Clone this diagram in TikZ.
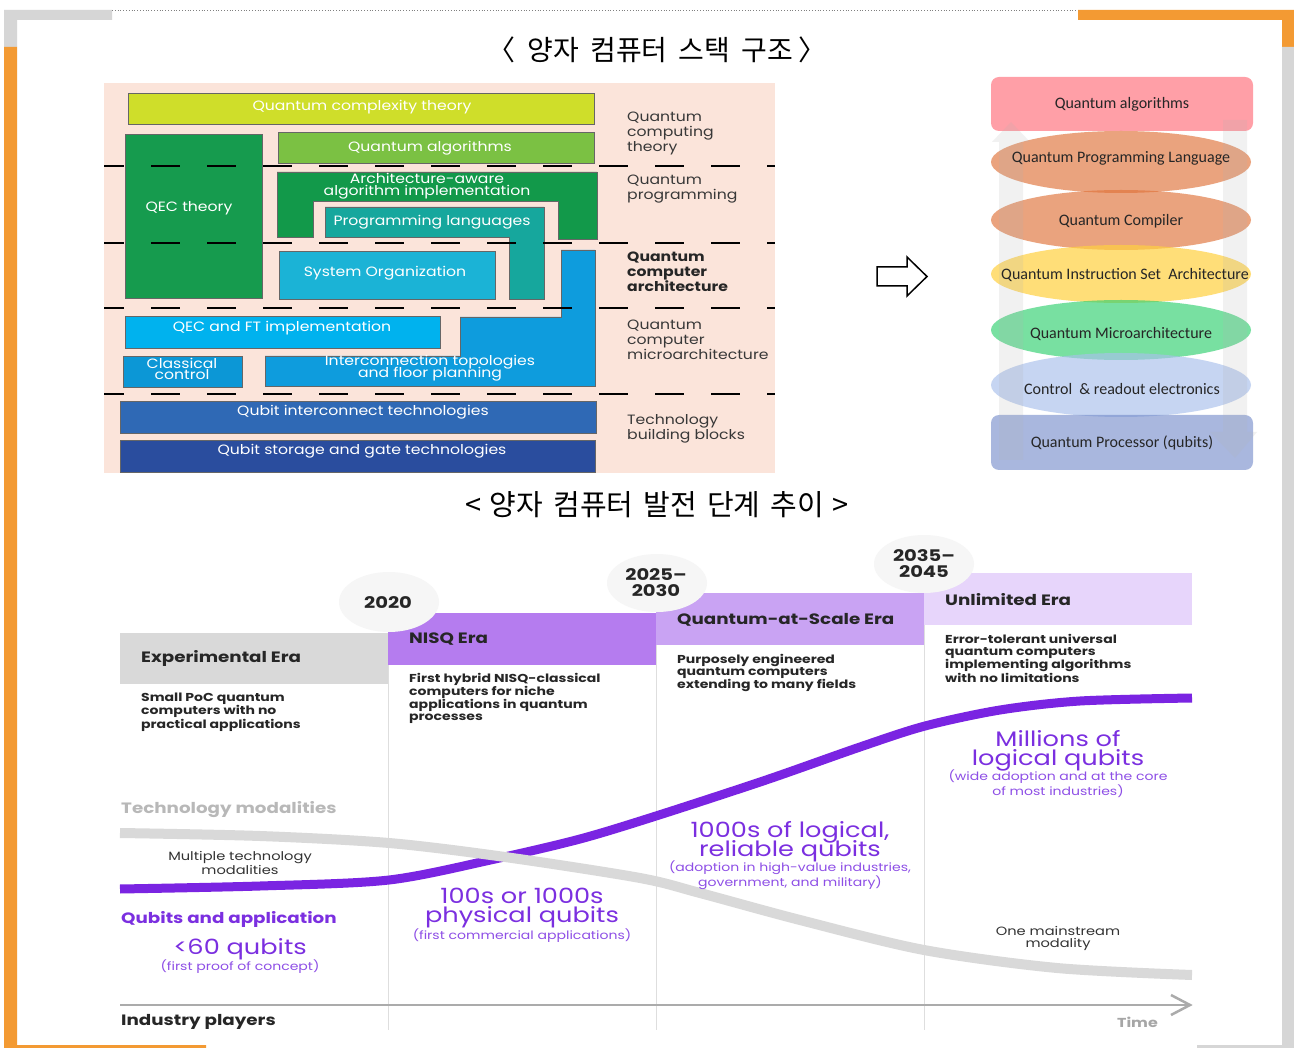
\documentclass[tikz,border=0pt]{standalone}
\usepackage{fontspec}
\setmainfont{Poppins}
\newfontfamily\gotham[FakeStretch=1.16]{Poppins}
\newfontfamily\gothw[FakeStretch=1.22]{Poppins}
\newfontfamily\cjk{Noto Sans CJK KR}
\newfontfamily\stk{Carlito}
\newcommand\tightl{\lineskiplimit=-20pt\relax}
\usetikzlibrary{shapes.geometric, positioning, calc}
\definecolor{frameor}{HTML}{F39A33}
\definecolor{framegr}{HTML}{D6D6D6}
\definecolor{peach}{HTML}{FBE4DA}
\definecolor{cxty}{HTML}{CFDE2A}
\definecolor{qalg}{HTML}{7BC143}
\definecolor{qect}{HTML}{169B4E}
\definecolor{arch}{HTML}{12994A}
\definecolor{plang}{HTML}{16A79D}
\definecolor{sorg}{HTML}{1BB3D6}
\definecolor{icon}{HTML}{0E9CDD}
\definecolor{qeft}{HTML}{00B2EE}
\definecolor{cctl}{HTML}{0C97D6}
\definecolor{qint}{HTML}{2F69B5}
\definecolor{qsto}{HTML}{2A4D9E}
\definecolor{sred}{HTML}{FF4050}
\definecolor{sorn}{HTML}{E0733A}
\definecolor{syel}{HTML}{FFD040}
\definecolor{sgrn}{HTML}{30D070}
\definecolor{slbl}{HTML}{A8C0EC}
\definecolor{sblu}{HTML}{7088C8}
\definecolor{eexp}{HTML}{D9D9D9}
\definecolor{enisq}{HTML}{B57CEF}
\definecolor{eqas}{HTML}{C9A3F3}
\definecolor{eunl}{HTML}{E7D5FB}
\definecolor{bubble}{HTML}{F6F6F6}
\definecolor{qline}{HTML}{7A24E2}
\definecolor{qtext}{HTML}{7B2FE0}
\definecolor{qsub}{HTML}{8E4FE6}
\definecolor{tline}{HTML}{D9D9D9}
\begin{document}
\begin{tikzpicture}[x=1pt, y=-1pt,
  blk/.style={draw=black!60, line width=0.7pt},
  btxt/.style={text=white, font=\gotham\fontsize{13.5}{11.5}\selectfont\tightl, align=center, inner sep=0pt},
  lyr/.style={text=black!78, font=\gotham\fontsize{13.5}{15}\selectfont, align=left, anchor=west, inner sep=0pt},
  sep/.style={line width=2.6pt, dash pattern=on 29pt off 27pt, dash phase=9pt},
  stxt/.style={font=\stk\fontsize{16}{16}\selectfont, text=black!85, inner sep=0pt},
  era/.style={font=\gothw\bfseries\fontsize{15}{15}\selectfont, anchor=west, inner sep=0pt, text=black!85},
  desc/.style={font=\gothw\bfseries\fontsize{11.5}{12}\selectfont, anchor=north west, align=left, inner sep=0pt, text=black!85},
  yr/.style={font=\gothw\bfseries\fontsize{16}{16}\selectfont, align=center, inner sep=0pt, text=black!85},
  big/.style={font=\gothw\fontsize{21}{19}\selectfont\tightl, text=qtext, align=center, inner sep=0pt},
  small/.style={font=\gothw\fontsize{11.5}{12}\selectfont, text=qsub, align=center, inner sep=0pt},
  note/.style={font=\gothw\fontsize{12}{12}\selectfont, text=black!80, align=center, inner sep=0pt},
  divider/.style={draw=black!13, line width=0.8pt},
]
\useasboundingbox (0,0) rectangle (1294,1048);
\fill[white] (0,0) rectangle (1294,1048);

% frame
\fill[framegr] (4,10) rectangle (112,20) (4,10) rectangle (17,47);
\fill[frameor] (4,47) rectangle (17,1048) (4,1045) rectangle (206,1048);
\fill[frameor] (1078,10) rectangle (1294,20) (1282,10) rectangle (1294,47);
\fill[framegr] (1282,47) rectangle (1294,1048) (1197,1045) rectangle (1294,1048);
\draw[black!50, dotted, line width=0.8pt] (112,10.5) -- (1078,10.5);

\node[font=\cjk\fontsize{28}{28}\selectfont] (t1) at (657,50) {〈\hspace{0.45em}양자\hspace{0.4em}컴퓨터\hspace{0.4em}스택\hspace{0.4em}구조\hspace{0.2em}〉};

% stack research areas
\fill[peach] (104,83) rectangle (775,473);
\draw[blk, fill=cxty] (128,93) rectangle (594,124);
\draw[blk, fill=qalg] (278,132) rectangle (594,163);
\draw[blk, fill=qect] (125,134) rectangle (262,298);
\draw[blk, fill=arch] (277,172) -- (597,172) -- (597,239) -- (558,239) -- (558,201) -- (313,201) -- (313,237) -- (277,237) -- cycle;
\draw[blk, fill=plang] (325,207) -- (544,207) -- (544,299) -- (509,299) -- (509,237) -- (325,237) -- cycle;
\draw[blk, fill=sorg] (279,251) rectangle (495,299);
\draw[blk, fill=icon] (561,250) -- (595,250) -- (595,386) -- (265,386) -- (265,356) -- (460,356) -- (460,317) -- (561,317) -- cycle;
\draw[blk, fill=qeft] (125,316) rectangle (440,348);
\draw[blk, fill=cctl] (123,356) rectangle (242,387);
\draw[blk, fill=qint] (120,401) rectangle (596,433);
\draw[blk, fill=qsto] (120,440) rectangle (595,472);

\node[btxt] (cx) at (362,107) {Quantum complexity theory};
\node[btxt] (qa) at (430,148) {Quantum algorithms};
\node[btxt] (qt) at (189,208) {QEC theory};
\node[btxt] (aa) at (427,186) {Architecture-aware\\algorithm implementation};
\node[btxt] (pl) at (432,222) {Programming languages};
\node[btxt] (so) at (385,273) {System Organization};
\node[btxt] (ft) at (282,328) {QEC and FT implementation};
\node[btxt] (cc) at (182,369) {Classical\\control};
\node[btxt] (it) at (430,368) {Interconnection topologies\\and floor planning};
\node[btxt] (qi) at (363,412) {Qubit interconnect technologies};
\node[btxt] (qs) at (362,451) {Qubit storage and gate technologies};

\foreach \y in {166,243,308,394}
  \draw[sep] (104,\y) -- (775,\y);

\node[lyr] (l1) at (627,133) {Quantum\\computing\\theory};
\node[lyr] (l2) at (627,189.5) {Quantum\\programming};
\node[lyr, font=\gotham\bfseries\fontsize{13.5}{15}\selectfont, text=black!85] (l3) at (627,271.5) {Quantum\\computer\\architecture};
\node[lyr] (l4) at (627,340) {Quantum\\computer\\microarchitecture};
\node[lyr] (l5) at (627,428.5) {Technology\\building blocks};

% hollow arrow
\draw[line width=1.5pt, fill=white] (877,267) -- (907,267) -- (907,257) -- (927,276.5) -- (907,296) -- (907,286) -- (877,286) -- cycle;

% software stack
\fill[sred, opacity=.5, rounded corners=8pt] (991,77) rectangle (1253,131);
\fill[sorn, opacity=.65] (1121,162) ellipse [x radius=130pt, y radius=31pt];
\fill[sorn, opacity=.65] (1121,220) ellipse [x radius=130pt, y radius=30pt];
\fill[syel, opacity=.7] (1121,274) ellipse [x radius=130pt, y radius=29pt];
\fill[sgrn, opacity=.65] (1121,330) ellipse [x radius=130pt, y radius=30pt];
\fill[slbl, opacity=.65] (1121,385) ellipse [x radius=130pt, y radius=32pt];
\fill[sblu, opacity=.6, rounded corners=8pt] (991,415) rectangle (1253,470);
\fill[black!30, opacity=.18] (999,460) -- (999,142) -- (992,142) -- (1011,122) -- (1030,142) -- (1023,142) -- (1023,460) -- cycle;
\fill[black!30, opacity=.18] (1223,120) -- (1247,120) -- (1247,432) -- (1257,432) -- (1235,458) -- (1210,432) -- (1223,432) -- cycle;

\node[stxt] (s1) at (1122,104) {Quantum algorithms};
\node[stxt] (s2) at (1121,158) {Quantum Programming Language};
\node[stxt] (s3) at (1121,221) {Quantum Compiler};
\node[stxt] (s4) at (1125,275) {Quantum Instruction Set~ Architecture};
\node[stxt] (s5) at (1121,334) {Quantum Microarchitecture};
\node[stxt] (s6) at (1122,389) {Control~ \& readout electronics};
\node[stxt] (s7) at (1122,443) {Quantum Processor (qubits)};

\node[font=\cjk\fontsize{29}{29}\selectfont] (t2) at (657,505) {<\hspace{0.3em}양자\hspace{0.35em}컴퓨터\hspace{0.35em}발전\hspace{0.35em}단계\hspace{0.35em}추이\hspace{0.3em}>};

% eras
\fill[eexp] (120,633) rectangle (388,684);
\fill[enisq] (388,613) rectangle (656,665);
\fill[eqas] (656,593) rectangle (924,645);
\fill[eunl] (924,573) rectangle (1192,625);
\fill[bubble] (389,602) ellipse [x radius=50pt, y radius=30pt];
\fill[bubble] (657,583) ellipse [x radius=50pt, y radius=29pt];
\fill[bubble] (924,564) ellipse [x radius=50pt, y radius=29pt];
\node[yr] (y1) at (388,603) {2020};
\node[yr] (y2) at (656,583) {2025–\\2030};
\node[yr] (y3) at (924,564) {2035–\\2045};

\node[era] (e1) at (141,658) {Experimental Era};
\node[era] (e2) at (409,639) {NISQ Era};
\node[era] (e3) at (677,620) {Quantum-at-Scale Era};
\node[era] (e4) at (945,600) {Unlimited Era};

\node[desc] (d1) at (141,693) {Small PoC quantum\\computers with no\\practical applications};
\node[desc] (d2) at (409,673) {First hybrid NISQ-classical\\computers for niche\\applications in quantum\\processes};
\node[desc] (d3) at (677,654) {Purposely engineered\\quantum computers\\extending to many fields};
\node[desc] (d4) at (945,634) {Error-tolerant universal\\quantum computers\\implementing algorithms\\with no limitations};

\draw[divider] (388,665) -- (388,1030);
\draw[divider] (656,645) -- (656,1030);
\draw[divider] (924,625) -- (924,1030);

\node[era, text=black!28, font=\gothw\bfseries\fontsize{15}{15}\selectfont] (tm) at (121,810) {Technology modalities};
\node[note] (mt) at (240,863) {Multiple technology\\modalities};
\node[era, text=qtext] (qb) at (121,919) {Qubits and application};

\draw[qline, line width=9pt] plot[smooth] coordinates {(120,889) (260,886) (389,880) (495,859) (580,839) (656,816) (766,780) (860,747) (925,726) (1000,710) (1080,701) (1192,698)};
\draw[tline, line width=10pt] plot[smooth] coordinates {(120,833) (260,836) (389,843) (505,857) (640,878) (700,893) (800,920) (924,950) (1057,968) (1192,975)};

\node[big] (q1) at (240,949) {<60 qubits};
\node[small] (p1) at (240,967) {(first proof of concept)};
\node[big] (q2) at (522,908.5) {100s or 1000s\\physical qubits};
\node[small] (p2) at (522,936) {(first commercial applications)};
\node[big] (q3) at (790,841.5) {1000s of logical,\\reliable qubits};
\node[small] (p3) at (790,875) {(adoption in high-value industries,\\government, and military)};
\node[big] (q4) at (1058,751) {Millions of\\logical qubits};
\node[small] (p4) at (1058,784) {(wide adoption and at the core\\of most industries)};
\node[note] (om) at (1058,938) {One mainstream\\modality};

% time axis
\coordinate (a0) at (120,1005);
\coordinate (a1) at (1190,1005);
\draw[black!33, line width=2.5pt] (a0) -- (a1);
\draw[black!33, line width=2.5pt] ($(a1)+(-19,-10)$) -- (a1) -- ($(a1)+(-19,10)$);
\node[era] (ip) at (121,1022) {Industry players};
\node[era, anchor=east, text=black!35, font=\gothw\bfseries\fontsize{13}{13}\selectfont] (tt) at (1158,1022) {Time};
\end{tikzpicture}
\end{document}
